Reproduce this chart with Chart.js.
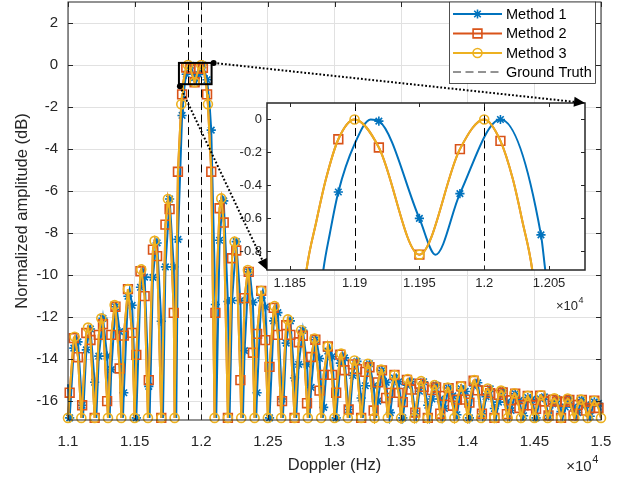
<!DOCTYPE html>
<html>
<head>
<meta charset="utf-8">
<script src="https://cdn.jsdelivr.net/npm/chart.js@4.4.1/dist/chart.umd.min.js"></script>
<style>
  html, body { margin: 0; padding: 0; background: #fff; }
  #wrap { position: relative; width: 627px; height: 481px; }
  #wrap canvas { position: absolute; }
</style>
</head>
<body>
<div id="wrap">
  <canvas id="mainChart" width="627" height="481" style="left:0;top:0"></canvas>
  <canvas id="insetChart" width="378" height="225" style="left:217px;top:95px"></canvas>
  <canvas id="overlay" width="627" height="481" style="left:0;top:0;pointer-events:none"></canvas>
</div>
<script>
// legend / axis text
const seriesNames = ['Method 1', 'Method 2', 'Method 3', 'Ground Truth'];
const xTicks = [11000, 11500, 12000, 12500, 13000, 13500, 14000, 14500, 15000];
const xTickLabels = ['1.1', '1.15', '1.2', '1.25', '1.3', '1.35', '1.4', '1.45', '1.5'];
const yTicks = [-16, -14, -12, -10, -8, -6, -4, -2, 0, 2];
const yTickLabels = ['-16', '-14', '-12', '-10', '-8', '-6', '-4', '-2', '0', '2'];
const insetXTicks = [11850, 11900, 11950, 12000, 12050];
const insetXTickLabels = ['1.185', '1.19', '1.195', '1.2', '1.205'];
const insetYTicks = [-0.8, -0.6, -0.4, -0.2, 0];
const insetYTickLabels = ['-0.8', '-0.6', '-0.4', '-0.2', '0'];

// true Doppler lines
const groundTruth = [11900, 12000];

// Method 3 samples (every 50 Hz, one marker each)
const m3X = [
  11000, 11050, 11100, 11150, 11200, 11250, 11300, 11350, 11400, 11450,
  11500, 11550, 11600, 11650, 11700, 11750, 11800, 11850, 11900, 11950,
  12000, 12050, 12100, 12150, 12200, 12250, 12300, 12350, 12400, 12450,
  12500, 12550, 12600, 12650, 12700, 12750, 12800, 12850, 12900, 12950,
  13000, 13050, 13100, 13150, 13200, 13250, 13300, 13350, 13400, 13450,
  13500, 13550, 13600, 13650, 13700, 13750, 13800, 13850, 13900, 13950,
  14000, 14050, 14100, 14150, 14200, 14250, 14300, 14350, 14400, 14450,
  14500, 14550, 14600, 14650, 14700, 14750, 14800, 14850, 14900, 14950,
  15000
];
const m3Y = [
  -16.8, -12.94, -16.8, -12.5, -16.8, -12.06, -16.8, -11.43, -16.8, -10.67,
  -16.8, -9.73, -16.8, -8.37, -16.8, -6.38, -16.8, -1.87, 0, -0.82,
  0, -1.87, -16.8, -6.35, -16.8, -8.41, -16.8, -9.76, -16.8, -10.75,
  -16.8, -11.48, -16.8, -12.11, -16.8, -12.63, -16.8, -13.02, -16.8, -13.4,
  -16.8, -13.74, -16.8, -14.07, -16.8, -14.22, -16.8, -14.5, -16.8, -14.76,
  -16.8, -14.95, -16.8, -15.05, -16.8, -15.24, -16.8, -15.35, -16.8, -15.3,
  -16.8, -15.0, -16.8, -15.4, -16.8, -15.5, -16.8, -15.63, -16.8, -15.75,
  -16.8, -15.72, -16.8, -15.87, -16.8, -15.88, -16.8, -15.93, -16.8, -15.98,
  -16.8
];

// marker positions shared by Method 1 and Method 2
const markerX = [
  11012.5, 11043.75, 11075, 11106.25, 11137.5, 11168.75, 11200, 11231.25, 11262.5, 11293.75, 11325, 11356.25, 11387.5, 11418.75, 11450, 11481.25,
  11512.5, 11543.75, 11575, 11606.25, 11637.5, 11668.75, 11700, 11731.25, 11762.5, 11793.75, 11825, 11856.25, 11887.5, 11918.75, 11950, 11981.25,
  12012.5, 12043.75, 12075, 12106.25, 12137.5, 12168.75, 12200, 12231.25, 12262.5, 12293.75, 12325, 12356.25, 12387.5, 12418.75, 12450, 12481.25,
  12512.5, 12543.75, 12575, 12606.25, 12637.5, 12668.75, 12700, 12731.25, 12762.5, 12793.75, 12825, 12856.25, 12887.5, 12918.75, 12950, 12981.25,
  13012.5, 13043.75, 13075, 13106.25, 13137.5, 13168.75, 13200, 13231.25, 13262.5, 13293.75, 13325, 13356.25, 13387.5, 13418.75, 13450, 13481.25,
  13512.5, 13543.75, 13575, 13606.25, 13637.5, 13668.75, 13700, 13731.25, 13762.5, 13793.75, 13825, 13856.25, 13887.5, 13918.75, 13950, 13981.25,
  14012.5, 14043.75, 14075, 14106.25, 14137.5, 14168.75, 14200, 14231.25, 14262.5, 14293.75, 14325, 14356.25, 14387.5, 14418.75, 14450, 14481.25,
  14512.5, 14543.75, 14575, 14606.25, 14637.5, 14668.75, 14700, 14731.25, 14762.5, 14793.75, 14825, 14856.25, 14887.5, 14918.75, 14950, 14981.25
];
// Method 2 (same curve as Method 3, other markers)
const m2Y = [
  -15.6, -13.0, -13.91, -16.2, -12.76, -13.09, -16.8, -12.85, -12.34, -16.0, -12.85, -11.51, -14.45, -12.88, -10.67, -12.75,
  -13.8, -9.82, -11.0, -15.0, -8.79, -9.1, -16.8, -7.6, -6.86, -11.8, -5.08, -1.4, -0.12, -0.17, -0.82, -0.18,
  -0.13, -1.4, -5.08, -11.8, -6.82, -7.5, -16.8, -9.2, -8.83, -15.0, -11.1, -9.85, -13.7, -12.8, -10.75, -13.1,
  -14.37, -11.56, -12.85, -16.0, -12.39, -12.85, -16.8, -13.2, -12.89, -16.1, -13.9, -13.08, -15.5, -14.75, -13.4, -14.75,
  -15.6, -13.79, -14.53, -16.4, -14.25, -14.48, -16.8, -14.61, -14.39, -16.45, -15.11, -14.54, -15.85, -15.61, -14.76, -15.61,
  -16.05, -14.99, -15.45, -16.55, -15.17, -15.32, -16.8, -15.48, -15.35, -16.6, -15.75, -15.38, -16.22, -15.93, -15.3, -15.93,
  -16.07, -15.03, -15.49, -16.6, -15.5, -15.62, -16.8, -15.7, -15.59, -16.62, -15.96, -15.65, -16.33, -16.2, -15.75, -16.2,
  -16.37, -15.74, -16.02, -16.68, -15.93, -16.02, -16.8, -16.03, -15.94, -16.68, -16.18, -15.94, -16.45, -16.33, -15.98, -16.33
];
// Method 1 markers
const m1Y = [
  -16.8, -13.48, -13.18, -16.2, -13.56, -12.57, -15.1, -13.86, -12.06, -13.86, -14.5, -11.51, -12.69, -15.6, -11.01, -11.44,
  -16.8, -10.58, -10.1, -15.3, -10.11, -8.47, -12.2, -9.61, -6.38, -9.61, -8.3, -2.4, -0.44, -0.01, -0.6, -0.45,
  0, -0.7, -3.1, -11.4, -8.34, -6.47, -11.26, -11.21, -8.41, -11.21, -13.6, -9.85, -11.3, -15.6, -11.09, -11.52,
  -16.8, -12.18, -11.79, -15.9, -13.24, -12.18, -14.9, -14.25, -12.63, -14.25, -15.35, -13.08, -13.97, -16.3, -13.62, -13.89,
  -16.8, -14.19, -13.94, -16.4, -14.78, -14.11, -15.85, -15.27, -14.22, -15.27, -16.0, -14.54, -15.11, -16.55, -14.9, -15.08,
  -16.8, -15.24, -15.08, -16.6, -15.53, -15.08, -16.2, -15.9, -15.24, -15.9, -16.35, -15.38, -15.75, -16.65, -15.41, -15.54,
  -16.8, -15.28, -15.13, -16.6, -15.79, -15.42, -16.35, -16.05, -15.5, -16.05, -16.45, -15.65, -15.96, -16.7, -15.83, -15.92,
  -16.8, -15.89, -15.8, -16.7, -16.13, -15.89, -16.5, -16.28, -15.88, -16.28, -16.55, -15.94, -16.18, -16.72, -16.04, -16.11
];
// Method 1 curve peaks and nulls
const m1CurveX = [
  11000,
  11012.5, 11062.5, 11112.5, 11162.5, 11212.5, 11262.5, 11312.5, 11362.5, 11412.5, 11462.5,
  11512.5, 11562.5, 11612.5, 11662.5, 11712.5, 11762.5, 11812.5, 11862.5, 11912.5, 11962.5,
  12012.5, 12062.5, 12112.5, 12162.5, 12212.5, 12262.5, 12312.5, 12362.5, 12412.5, 12462.5,
  12512.5, 12562.5, 12612.5, 12662.5, 12712.5, 12762.5, 12812.5, 12862.5, 12912.5, 12962.5,
  13012.5, 13062.5, 13112.5, 13162.5, 13212.5, 13262.5, 13312.5, 13362.5, 13412.5, 13462.5,
  13512.5, 13562.5, 13612.5, 13662.5, 13712.5, 13762.5, 13812.5, 13862.5, 13912.5, 13962.5,
  14012.5, 14062.5, 14112.5, 14162.5, 14212.5, 14262.5, 14312.5, 14362.5, 14412.5, 14462.5,
  14512.5, 14562.5, 14612.5, 14662.5, 14712.5, 14762.5, 14812.5, 14862.5, 14912.5, 14962.5,
  15000
];
const m1CurveY = [
  -15.2,
  -16.8, -12.94, -16.8, -12.5, -16.8, -12.06, -16.8, -11.43, -16.8, -10.67,
  -16.8, -9.73, -16.8, -8.37, -16.8, -6.38, -16.8, -1.87, 0, -0.82,
  0, -1.87, -16.8, -6.35, -16.8, -8.41, -16.8, -9.76, -16.8, -10.75,
  -16.8, -11.48, -16.8, -12.11, -16.8, -12.63, -16.8, -13.02, -16.8, -13.4,
  -16.8, -13.74, -16.8, -14.07, -16.8, -14.22, -16.8, -14.5, -16.8, -14.76,
  -16.8, -14.95, -16.8, -15.05, -16.8, -15.24, -16.8, -15.35, -16.8, -15.3,
  -16.8, -15.0, -16.8, -15.4, -16.8, -15.5, -16.8, -15.63, -16.8, -15.75,
  -16.8, -15.72, -16.8, -15.87, -16.8, -15.88, -16.8, -15.93, -16.8, -15.98,
  -16.45
];
// extra curve points
const m23ShapeX = [11863, 11870.5, 11878, 12022, 12029.5, 12037];
const m23ShapeY = [-0.91, -0.62, -0.36, -0.36, -0.62, -0.91];
const m1ShapeX = [11876, 11881, 11900, 12047];
const m1ShapeY = [-0.91, -0.69, -0.15, -0.91];

// axis limits
const xRange = [11000, 15000];
const yRange = [-16.9, 3];
const insetXRange = [11832.5, 12077.7];
const insetYRange = [-0.913, 0.1];

const colors = ['#0072BD', '#D95319', '#EDB120'];
const axisColor = '#262626';
const gridColor = '#e1e1e1';
const fontFamily = '"Liberation Sans", Arial, Helvetica, sans-serif';
Chart.defaults.font.family = fontFamily;
Chart.defaults.color = axisColor;

function toPoints(xs, ys) {
  return xs.map((x, i) => ({ x: x, y: ys[i] }));
}
// join read points into one curve, ordered by frequency
function mergeCurve(sets) {
  const m = new Map();
  sets.forEach(([xs, ys]) => xs.forEach((x, i) => { if (!m.has(x)) m.set(x, ys[i]); }));
  return [...m.entries()].sort((a, b) => a[0] - b[0]).map(([x, y]) => ({ x: x, y: y }));
}

function buildDatasets(inset) {
  const line = (data, color, order) => ({
    data: data, showLine: true, borderColor: color, borderWidth: 2,
    pointRadius: 0, order: order, tension: 0,
    cubicInterpolationMode: inset ? 'monotone' : 'default',
    clip: inset ? 0 : 4
  });
  const marks = (data, color, style, r, order) => ({
    data: data, showLine: false, pointStyle: style, pointRadius: r,
    pointBorderColor: color, pointBackgroundColor: 'rgba(0,0,0,0)',
    pointBorderWidth: 1.6, order: order, clip: inset ? 0 : 8
  });
  const c23 = [[m3X, m3Y], [markerX, m2Y], [m23ShapeX, m23ShapeY]];
  const c1 = [[m1CurveX, m1CurveY], [markerX, m1Y], [m1ShapeX, m1ShapeY]];
  return [
    marks(toPoints(m3X, m3Y), colors[2], 'circle', 4.5, 0),
    line(mergeCurve(c23), colors[2], 1),
    marks(toPoints(markerX, m2Y), colors[1], 'rect', 6.2, 2),
    line(mergeCurve(c23), colors[1], 3),
    marks(toPoints(markerX, m1Y), colors[0], 'star', 4.6, 4),
    line(mergeCurve(c1), colors[0], 5)
  ];
}

function drawMarker(ctx, style, x, y, r) {
  ctx.beginPath();
  if (style === 'circle') {
    ctx.arc(x, y, r, 0, Math.PI * 2);
  } else if (style === 'rect') {
    ctx.rect(x - r, y - r, 2 * r, 2 * r);
  } else {
    for (let k = 0; k < 4; k++) {
      const a = k * Math.PI / 4;
      ctx.moveTo(x - r * Math.cos(a), y - r * Math.sin(a));
      ctx.lineTo(x + r * Math.cos(a), y + r * Math.sin(a));
    }
  }
  ctx.stroke();
}

// MATLAB-like box, inward ticks, ground truth, zoom box, exponent, legend
const frame = {
  id: 'frame',
  beforeDraw(chart, args, o) {
    if (!o.whiteArea) return;
    const a = chart.chartArea, ctx = chart.ctx;
    ctx.save();
    ctx.fillStyle = '#fff';
    ctx.fillRect(a.left, a.top, a.right - a.left, a.bottom - a.top);
    ctx.restore();
  },
  afterDatasetsDraw(chart, args, o) {
    const ctx = chart.ctx, a = chart.chartArea;
    const sx = chart.scales.x, sy = chart.scales.y;
    ctx.save();
    // ground truth
    ctx.strokeStyle = '#000';
    ctx.lineWidth = 1;
    ctx.setLineDash([8, 4.5]);
    groundTruth.forEach(g => {
      const px = Math.round(sx.getPixelForValue(g)) + 0.5;
      ctx.beginPath();
      ctx.moveTo(px, a.top);
      ctx.lineTo(px, a.bottom);
      ctx.stroke();
    });
    ctx.setLineDash([]);
    // box
    ctx.strokeStyle = axisColor;
    ctx.lineWidth = o.boxWidth;
    ctx.strokeRect(a.left, a.top, a.right - a.left, a.bottom - a.top);
    // inward ticks
    ctx.lineWidth = 1;
    const tl = o.tickLen;
    ctx.beginPath();
    o.xTicks.forEach(v => {
      const px = Math.round(sx.getPixelForValue(v)) + 0.5;
      ctx.moveTo(px, a.bottom); ctx.lineTo(px, a.bottom - tl);
      ctx.moveTo(px, a.top); ctx.lineTo(px, a.top + tl);
    });
    o.yTicks.forEach(v => {
      const py = Math.round(sy.getPixelForValue(v)) + 0.5;
      ctx.moveTo(a.left, py); ctx.lineTo(a.left + tl, py);
      ctx.moveTo(a.right, py); ctx.lineTo(a.right - tl, py);
    });
    ctx.stroke();
    // zoom rectangle
    if (o.zoomBox) {
      const x1 = sx.getPixelForValue(insetXRange[0]), x2 = sx.getPixelForValue(insetXRange[1]);
      const y1 = sy.getPixelForValue(insetYRange[1]), y2 = sy.getPixelForValue(insetYRange[0]);
      ctx.strokeStyle = '#000';
      ctx.lineWidth = 2;
      ctx.strokeRect(x1, y1, x2 - x1, y2 - y1);
    }
    // x10^4
    ctx.fillStyle = axisColor;
    ctx.textBaseline = 'middle';
    ctx.textAlign = 'right';
    ctx.font = o.expFont + 'px ' + fontFamily;
    ctx.fillText('\u00d710', a.right + o.expDx, a.bottom + o.expDy);
    ctx.textAlign = 'left';
    ctx.font = Math.round(o.expFont * 0.7) + 'px ' + fontFamily;
    ctx.fillText('4', a.right + o.expDx + 0.5, a.bottom + o.expDy - o.expFont * 0.45);
    // legend
    if (o.legend) {
      const lx = 449, ly = 1.5, lw = 146, lh = 81.5;
      ctx.fillStyle = '#fff';
      ctx.fillRect(lx, ly, lw, lh);
      ctx.strokeStyle = axisColor;
      ctx.lineWidth = 0.8;
      ctx.strokeRect(lx + 0.5, ly + 0.5, lw, lh);
      const rows = [14, 33.5, 53, 72];
      const styles = ['star', 'rect', 'circle'];
      const sizes = [4.6, 4.4, 4.5];
      ctx.font = '14.5px ' + fontFamily;
      seriesNames.forEach((name, i) => {
        const y = rows[i];
        ctx.lineWidth = i < 3 ? 2 : 1;
        ctx.strokeStyle = i < 3 ? colors[i] : '#262626';
        ctx.setLineDash(i < 3 ? [] : [8, 4.5]);
        ctx.beginPath();
        ctx.moveTo(453, y); ctx.lineTo(502, y);
        ctx.stroke();
        ctx.setLineDash([]);
        if (i < 3) {
          ctx.lineWidth = 1.6;
          drawMarker(ctx, styles[i], 477.5, y, sizes[i]);
        }
        ctx.fillStyle = '#000';
        ctx.textAlign = 'left';
        ctx.textBaseline = 'middle';
        ctx.fillText(name, 506, y + 0.5);
      });
    }
    ctx.restore();
  }
};

function axisFit(size, horizontal) {
  return s => {
    if (horizontal) { s.height = size; s.paddingLeft = 0; s.paddingRight = 0; }
    else { s.width = size; s.paddingTop = 0; s.paddingBottom = 0; }
  };
}

const mainChart = new Chart(document.getElementById('mainChart'), {
  type: 'scatter',
  data: { datasets: buildDatasets(false) },
  options: {
    responsive: false,
    animation: false,
    events: [],
    layout: { autoPadding: false, padding: { left: 0, top: 2, right: 26, bottom: 0 } },
    plugins: {
      legend: { display: false },
      tooltip: { enabled: false },
      frame: {
        xTicks: xTicks, yTicks: yTicks, tickLen: 5, boxWidth: 1,
        zoomBox: true, legend: true, expFont: 15, expDx: -9.3, expDy: 46.7
      }
    },
    scales: {
      x: {
        type: 'linear', min: xRange[0], max: xRange[1],
        afterBuildTicks: s => { s.ticks = xTicks.map(v => ({ value: v })); },
        afterFit: axisFit(61, true),
        ticks: { callback: (v, i) => xTickLabels[i], font: { size: 15 }, color: axisColor, padding: 12.5, maxRotation: 0, autoSkip: false },
        grid: { color: gridColor, drawTicks: false },
        border: { display: false },
        title: { display: true, text: 'Doppler (Hz)', font: { size: 16.5 }, color: axisColor, padding: { top: 0, bottom: 6 } }
      },
      y: {
        type: 'linear', min: yRange[0], max: yRange[1],
        afterBuildTicks: s => { s.ticks = yTicks.map(v => ({ value: v })); },
        afterFit: axisFit(68, false),
        ticks: { callback: (v, i) => yTickLabels[i], font: { size: 15 }, color: axisColor, padding: 10, autoSkip: false },
        grid: { color: gridColor, drawTicks: false },
        border: { display: false },
        title: { display: true, text: 'Normalized amplitude (dB)', font: { size: 16.5 }, color: axisColor, padding: { top: 13, bottom: 0 } }
      }
    }
  },
  plugins: [frame]
});

const insetChart = new Chart(document.getElementById('insetChart'), {
  type: 'scatter',
  data: { datasets: buildDatasets(true) },
  options: {
    responsive: false,
    animation: false,
    events: [],
    layout: { autoPadding: false, padding: { left: 0, top: 8, right: 10, bottom: 0 } },
    plugins: {
      legend: { display: false },
      tooltip: { enabled: false },
      frame: {
        xTicks: insetXTicks, yTicks: insetYTicks, tickLen: 4, boxWidth: 1.5,
        whiteArea: true, zoomBox: false, legend: false, expFont: 13, expDx: -7, expDy: 36
      }
    },
    scales: {
      x: {
        type: 'linear', min: insetXRange[0], max: insetXRange[1],
        afterBuildTicks: s => { s.ticks = insetXTicks.map(v => ({ value: v })); },
        afterFit: axisFit(50, true),
        ticks: { callback: (v, i) => insetXTickLabels[i], font: { size: 13 }, color: axisColor, padding: 6, maxRotation: 0, autoSkip: false },
        grid: { display: false, drawTicks: false },
        border: { display: false }
      },
      y: {
        type: 'linear', min: insetYRange[0], max: insetYRange[1],
        afterBuildTicks: s => { s.ticks = insetYTicks.map(v => ({ value: v })); },
        afterFit: axisFit(50, false),
        ticks: { callback: (v, i) => insetYTickLabels[i], font: { size: 13 }, color: axisColor, padding: 5, autoSkip: false },
        grid: { display: false, drawTicks: false },
        border: { display: false }
      }
    }
  },
  plugins: [frame]
});

// dotted connectors from the zoom box to the inset
(function drawConnectors() {
  const ctx = document.getElementById('overlay').getContext('2d');
  const mx = mainChart.scales.x, my = mainChart.scales.y;
  const x1 = mx.getPixelForValue(insetXRange[0]), x2 = mx.getPixelForValue(insetXRange[1]);
  const y1 = my.getPixelForValue(insetYRange[1]), y2 = my.getPixelForValue(insetYRange[0]);
  const ia = insetChart.chartArea, ox = 217, oy = 95;
  const links = [
    [x2 + 2, y1, ox + ia.right, oy + ia.top],
    [x1 + 1, y2 + 2, ox + ia.left, oy + ia.bottom]
  ];
  ctx.fillStyle = '#000';
  ctx.strokeStyle = '#000';
  links.forEach(([sx, sy, tx, ty]) => {
    const len = Math.hypot(tx - sx, ty - sy);
    const ux = (tx - sx) / len, uy = (ty - sy) / len;
    const hl = 11, hw = 5;
    const bx = tx - ux * hl, by = ty - uy * hl;
    ctx.lineWidth = 2;
    ctx.setLineDash([1.8, 2]);
    ctx.beginPath();
    ctx.moveTo(sx, sy);
    ctx.lineTo(bx, by);
    ctx.stroke();
    ctx.setLineDash([]);
    ctx.beginPath();
    ctx.arc(sx, sy, 3, 0, Math.PI * 2);
    ctx.fill();
    ctx.beginPath();
    ctx.moveTo(tx, ty);
    ctx.lineTo(bx - uy * hw, by + ux * hw);
    ctx.lineTo(bx + uy * hw, by - ux * hw);
    ctx.closePath();
    ctx.fill();
  });
})();
</script>
</body>
</html>
